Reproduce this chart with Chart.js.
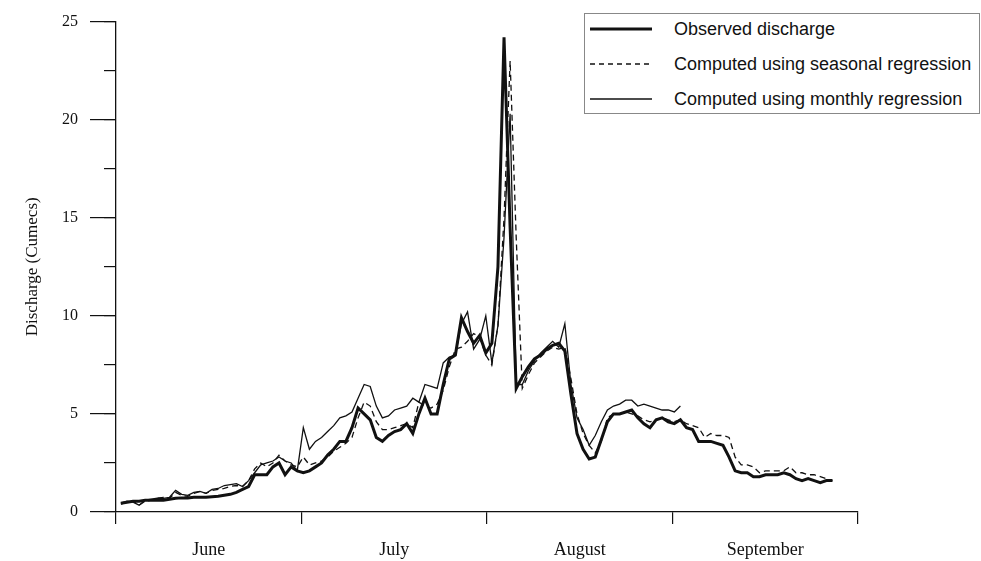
<!DOCTYPE html>
<html>
<head>
<meta charset="utf-8">
<script src="https://cdn.jsdelivr.net/npm/chart.js@4.4.1/dist/chart.umd.min.js"></script>
<style>
  html, body { margin: 0; padding: 0; background: #fff; }
  #wrap { position: relative; width: 981px; height: 561px; }
  #legend {
    position: absolute; left: 584px; top: 13px; width: 396px; height: 101px;
    border: 1px solid #888; box-sizing: border-box; background: #fff;
    font-family: "Liberation Sans", Arial, sans-serif; font-size: 18px; color: #111;
  }
  .row { position: absolute; left: 0; height: 24px; display: flex; align-items: center; }
  .row svg { margin-left: 5px; margin-right: 22px; }
</style>
</head>
<body>
<div id="wrap">
  <canvas id="chart" width="981" height="561"></canvas>
  <div id="legend"></div>
</div>
<script>
// daily discharge, 1 June onwards (cumecs)
const months = ["June", "July", "August", "September"];
const seasonDays = 122;

const observed = [
  0.45, 0.5, 0.55, 0.55, 0.6, 0.6, 0.6, 0.6, 0.65, 0.7,
  0.72, 0.72, 0.75, 0.75, 0.75, 0.78, 0.8, 0.85, 0.9, 1.0,
  1.15, 1.3, 1.9, 1.9, 1.9, 2.3, 2.5, 1.9, 2.3, 2.1,
  2.0, 2.1, 2.3, 2.5, 2.9, 3.2, 3.6, 3.6, 4.3, 5.3,
  5.0, 4.7, 3.8, 3.6, 3.9, 4.1, 4.2, 4.5, 4.0, 5.0,
  5.8, 5.0, 5.0, 6.5, 7.8, 8.0, 9.9, 9.2, 8.6, 9.0,
  8.1, 8.6, 12.5, 24.2, 14.5, 6.3, 6.9, 7.4, 7.8, 8.0,
  8.3, 8.5, 8.6, 8.2, 6.0, 4.0, 3.2, 2.7, 2.8, 3.7,
  4.6, 5.0, 5.0, 5.1, 5.2, 4.8, 4.5, 4.3, 4.7, 4.8,
  4.6, 4.5, 4.7, 4.3, 4.2, 3.6, 3.6, 3.6, 3.5, 3.4,
  2.8, 2.1, 2.0, 2.0, 1.8, 1.8, 1.9, 1.9, 1.9, 2.0,
  1.9, 1.7, 1.6, 1.7, 1.6, 1.5, 1.6, 1.6
];

const seasonal = [
  0.4, 0.5, 0.55, 0.35, 0.55, 0.6, 0.7, 0.75, 0.7, 1.0,
  0.85, 0.8, 0.95, 1.05, 0.95, 1.1, 1.15, 1.2, 1.3, 1.35,
  1.3, 1.6, 2.2, 2.5, 2.3, 2.5, 2.9, 2.6, 2.4, 2.3,
  2.8, 2.4, 2.5, 2.6, 2.8, 3.1, 3.3, 3.5, 3.8, 4.8,
  5.6, 5.4, 4.6, 4.2, 4.2, 4.3, 4.4, 4.5, 4.3, 5.6,
  5.4, 5.3, 5.5, 6.2, 7.4, 8.3, 8.4, 8.7, 9.1, 8.9,
  8.0, 7.5, 9.5, 15.0, 23.0, 14.0, 6.3, 7.0, 7.6, 7.9,
  8.2, 8.4, 8.3, 8.4, 6.8, 5.0, 4.0, 3.4, 3.0, 3.6,
  4.8, 5.0, 5.0, 5.1, 5.0, 4.9, 4.7, 4.6, 4.7, 4.8,
  4.7, 4.6, 4.7, 4.5, 4.4, 4.3, 3.8, 4.0, 3.9, 3.9,
  3.8, 2.8, 2.4, 2.4, 2.3, 2.0, 2.1, 2.1, 2.1, 2.1,
  2.3, 2.0, 2.0, 1.9, 1.9, 1.8, 1.7, 1.6
];

// monthly regression only runs to the end of August
const monthly = [
  0.45, 0.55, 0.5, 0.35, 0.6, 0.65, 0.7, 0.7, 0.75, 1.1,
  0.9, 0.85, 1.0, 1.05, 0.95, 1.15, 1.2, 1.35, 1.4, 1.45,
  1.3, 1.6, 2.0, 2.4, 2.5, 2.6, 2.8, 2.6, 2.5, 2.1,
  4.3, 3.2, 3.6, 3.8, 4.1, 4.4, 4.8, 4.9, 5.1, 5.8,
  6.5, 6.4, 5.4, 4.8, 4.9, 5.2, 5.3, 5.4, 5.8, 5.6,
  6.5, 6.4, 6.3, 7.6, 7.9, 8.0, 9.6, 10.2, 8.3, 8.8,
  10.0, 7.6, 9.5, 14.0, 20.3, 6.5, 6.5, 7.2, 7.7, 8.1,
  8.4, 8.7, 8.4, 9.6, 6.5, 4.8, 4.2, 3.4, 3.9, 4.6,
  5.2, 5.4, 5.5, 5.7, 5.7, 5.4, 5.5, 5.4, 5.3, 5.2,
  5.2, 5.1, 5.4
];

const yTicksMajor = 5;
const yTicksMinor = 2.5;

const ink = "#111";
const serif = "Liberation Serif";

// each day sits inside its slot on the day axis
const toPoints = arr => arr.map((v, i) => ({ x: i + 0.8, y: v }));

new Chart(document.getElementById("chart"), {
  type: "line",
  data: {
    datasets: [
      {
        label: "Observed discharge",
        data: toPoints(observed),
        borderColor: ink,
        borderWidth: 3,
        pointRadius: 0,
        tension: 0,
        xAxisID: "days",
        yAxisID: "y"
      },
      {
        label: "Computed using seasonal regression",
        data: toPoints(seasonal),
        borderColor: ink,
        borderWidth: 1.3,
        borderDash: [6, 4],
        pointRadius: 0,
        tension: 0,
        xAxisID: "days",
        yAxisID: "y"
      },
      {
        label: "Computed using monthly regression",
        data: toPoints(monthly),
        borderColor: ink,
        borderWidth: 1.3,
        pointRadius: 0,
        tension: 0,
        xAxisID: "days",
        yAxisID: "y"
      }
    ]
  },
  options: {
    responsive: false,
    animation: false,
    devicePixelRatio: 1,
    layout: { padding: { top: 20, right: 123, left: 0, bottom: 0 } },
    plugins: { legend: { display: false }, tooltip: { enabled: false } },
    scales: {
      days: { type: "linear", display: false, min: 0, max: seasonDays },
      x: {
        type: "category",
        labels: months,
        position: "bottom",
        offset: true,
        grid: { offset: true, drawOnChartArea: false, tickLength: 12, color: ink, lineWidth: 1.2 },
        border: { color: ink, width: 1.3 },
        ticks: { font: { family: serif, size: 18 }, color: ink, padding: 15, maxRotation: 0 },
        afterFit: s => { s.height = 49; }
      },
      y: {
        min: 0,
        max: 25,
        position: "left",
        weight: 1,
        grid: { drawOnChartArea: false, tickLength: 26, color: ink, lineWidth: 1.2 },
        border: { color: ink, width: 1.3 },
        ticks: { stepSize: yTicksMajor, font: { family: serif, size: 16 }, color: ink, padding: 12 },
        title: {
          display: true,
          text: "Discharge (Cumecs)",
          font: { family: serif, size: 17 },
          color: ink,
          padding: { top: 22, bottom: 0 }
        },
        afterFit: s => { s.width = 116; }
      },
      yMinor: {
        min: 0,
        max: 25,
        position: "left",
        weight: 0,
        grid: { drawOnChartArea: false, tickLength: 12, color: ink, lineWidth: 1.2 },
        border: { display: false },
        ticks: { stepSize: yTicksMinor, display: false },
        afterFit: s => { s.width = 0; }
      }
    }
  }
});

// legend box drawn over the top right corner
const legendRows = [
  { text: "Observed discharge", width: 3, dash: "" },
  { text: "Computed using seasonal regression", width: 1.3, dash: "5 4" },
  { text: "Computed using monthly regression", width: 1.3, dash: "" }
];
const legend = document.getElementById("legend");
legendRows.forEach((r, i) => {
  const row = document.createElement("div");
  row.className = "row";
  row.style.top = (3 + i * 35) + "px";
  row.innerHTML =
    '<svg width="62" height="10"><line x1="0" y1="5" x2="62" y2="5" stroke="' + ink +
    '" stroke-width="' + r.width + '"' + (r.dash ? ' stroke-dasharray="' + r.dash + '"' : "") +
    '/></svg><span>' + r.text + "</span>";
  legend.appendChild(row);
});
</script>
</body>
</html>
